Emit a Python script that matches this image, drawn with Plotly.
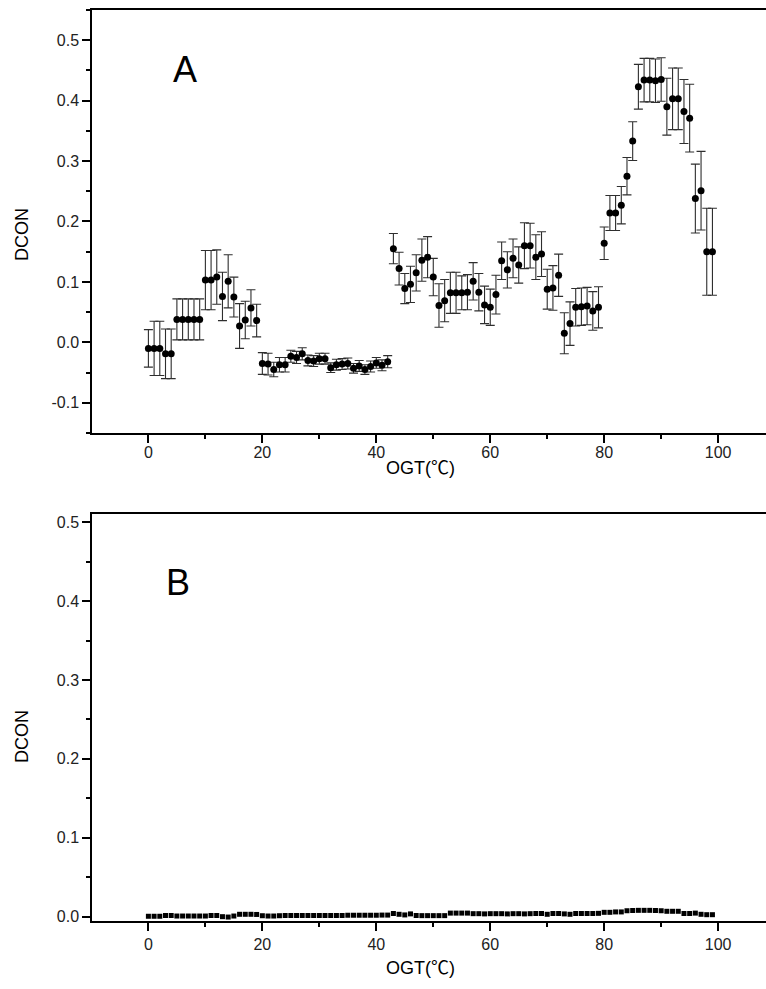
import plotly.graph_objects as go
from plotly.subplots import make_subplots

# ---------------- data ----------------
ogt = list(range(100))

dcon_a = [
    -0.010, -0.010, -0.010, -0.019, -0.019, 0.038, 0.038, 0.038, 0.038, 0.038,
    0.103, 0.103, 0.108, 0.076, 0.101, 0.075, 0.027, 0.037, 0.057, 0.036,
    -0.035, -0.036, -0.045, -0.037, -0.037, -0.023, -0.025, -0.019, -0.030, -0.031,
    -0.027, -0.027, -0.042, -0.037, -0.036, -0.035, -0.043, -0.039, -0.045, -0.040,
    -0.034, -0.038, -0.032, 0.155, 0.122, 0.089, 0.096, 0.115, 0.136, 0.141,
    0.108, 0.061, 0.069, 0.082, 0.082, 0.082, 0.083, 0.101, 0.083, 0.062,
    0.058, 0.079, 0.135, 0.120, 0.139, 0.128, 0.160, 0.160, 0.141, 0.146,
    0.088, 0.090, 0.111, 0.015, 0.031, 0.058, 0.059, 0.060, 0.052, 0.058,
    0.164, 0.214, 0.214, 0.227, 0.275, 0.333, 0.423, 0.434, 0.434, 0.433,
    0.435, 0.390, 0.403, 0.403, 0.382, 0.371, 0.238, 0.251, 0.150, 0.150,
]

err_a = [
    0.031, 0.045, 0.045, 0.041, 0.041, 0.034, 0.034, 0.034, 0.034, 0.034,
    0.049, 0.049, 0.045, 0.040, 0.044, 0.033, 0.037, 0.031, 0.030, 0.027,
    0.018, 0.018, 0.012, 0.012, 0.012, 0.010, 0.010, 0.010, 0.009, 0.009,
    0.009, 0.009, 0.008, 0.009, 0.009, 0.009, 0.008, 0.009, 0.008, 0.009,
    0.009, 0.009, 0.010, 0.025, 0.027, 0.025, 0.030, 0.030, 0.035, 0.034,
    0.031, 0.036, 0.035, 0.034, 0.034, 0.028, 0.029, 0.031, 0.031, 0.031,
    0.030, 0.032, 0.031, 0.030, 0.032, 0.030, 0.038, 0.037, 0.037, 0.037,
    0.033, 0.037, 0.035, 0.034, 0.036, 0.031, 0.031, 0.031, 0.032, 0.034,
    0.027, 0.029, 0.029, 0.031, 0.031, 0.032, 0.037, 0.036, 0.036, 0.036,
    0.036, 0.047, 0.051, 0.051, 0.053, 0.056, 0.057, 0.065, 0.072, 0.072,
]

dcon_b = [
    0.0005, 0.0005, 0.0005, 0.0015, 0.0015, 0.0008, 0.0008, 0.0008, 0.0008, 0.0008,
    0.0008, 0.0015, 0.0015, 0.0000, -0.0005, 0.0008, 0.0030, 0.0030, 0.0030, 0.0028,
    0.0012, 0.0008, 0.0008, 0.0012, 0.0015, 0.0015, 0.0015, 0.0015, 0.0015, 0.0015,
    0.0015, 0.0015, 0.0015, 0.0015, 0.0015, 0.0018, 0.0018, 0.0018, 0.0018, 0.0018,
    0.0018, 0.0020, 0.0020, 0.0040, 0.0030, 0.0022, 0.0035, 0.0015, 0.0013, 0.0013,
    0.0013, 0.0013, 0.0013, 0.0045, 0.0045, 0.0045, 0.0045, 0.0038, 0.0038, 0.0035,
    0.0038, 0.0038, 0.0038, 0.0035, 0.0038, 0.0038, 0.0035, 0.0038, 0.0040, 0.0040,
    0.0030, 0.0040, 0.0040, 0.0035, 0.0030, 0.0040, 0.0040, 0.0040, 0.0040, 0.0042,
    0.0055, 0.0055, 0.0060, 0.0060, 0.0075, 0.0078, 0.0080, 0.0080, 0.0080, 0.0078,
    0.0075, 0.0068, 0.0068, 0.0068, 0.0040, 0.0040, 0.0045, 0.0030, 0.0025, 0.0025,
]

x_ticks = [0, 20, 40, 60, 80, 100]
y_ticks_a = [-0.1, 0.0, 0.1, 0.2, 0.3, 0.4, 0.5]
y_ticks_b = [0.0, 0.1, 0.2, 0.3, 0.4, 0.5]

FONT = "Liberation Sans, Arial, sans-serif"
X_TITLE = "OGT(<span style='font-family:Noto Sans CJK SC'>℃</span>)"


def fmt(v):
    return "%.1f" % v  # ASCII hyphen for negatives, as in the original


# ---------------- figure ----------------
fig = make_subplots(rows=2, cols=1, vertical_spacing=0.0)

fig.add_trace(go.Scatter(
    x=ogt, y=dcon_a, mode="markers",
    marker=dict(symbol="circle", size=7, color="black"),
    error_y=dict(type="data", array=err_a, symmetric=True,
                 color="#2e2e2e", thickness=1.1, width=4.5),
    showlegend=False), row=1, col=1)

fig.add_trace(go.Scatter(
    x=ogt, y=dcon_b, mode="markers",
    marker=dict(symbol="square", size=5, color="black"),
    showlegend=False), row=2, col=1)

axis_common = dict(
    showgrid=False, zeroline=False, showline=True, linecolor="black",
    linewidth=1.5, ticks="outside", ticklen=8, tickwidth=1.5, tickcolor="black",
    tickfont=dict(family=FONT, size=16, color="#222"), automargin=False,
)

fig.update_xaxes(**axis_common, range=[-9.9, 108.4], tickvals=x_ticks,
                 ticktext=[str(t) for t in x_ticks],
                 minor=dict(dtick=10, tick0=0, ticks="outside", ticklen=4,
                            tickwidth=1.5, tickcolor="black", showgrid=False),
                 mirror=True)
fig.update_xaxes(ticklabelstandoff=-4, row=1, col=1)
fig.update_yaxes(**axis_common,
                 minor=dict(dtick=0.05, tick0=0, ticks="outside", ticklen=4,
                            tickwidth=1.5, tickcolor="black", showgrid=False))

fig.update_yaxes(range=[-0.15, 0.55], tickvals=y_ticks_a,
                 ticktext=[fmt(v) for v in y_ticks_a], row=1, col=1)
fig.update_yaxes(range=[-0.0055, 0.5104], tickvals=y_ticks_b,
                 ticktext=[fmt(v) for v in y_ticks_b], row=2, col=1)

fig.update_layout(
    width=766, height=989,
    margin=dict(l=92, r=0, t=10, b=68),
    paper_bgcolor="white", plot_bgcolor="white",
    font=dict(family=FONT, color="black"),
    xaxis=dict(domain=[0, 1]),
    yaxis=dict(domain=[0.5357, 1.0]),
    xaxis2=dict(domain=[0, 1]),
    yaxis2=dict(domain=[0.0, 0.4468]),
)

ann_font = dict(family=FONT, size=18, color="black")
annotations = [
    dict(text=X_TITLE, x=0.487, y=(921 - 466) / 911, xref="paper", yref="paper",
         showarrow=False, font=ann_font, xanchor="center", yanchor="middle"),
    dict(text=X_TITLE, x=0.487, y=(921 - 966) / 911, xref="paper", yref="paper",
         showarrow=False, font=ann_font, xanchor="center", yanchor="middle"),
    dict(text="DCON", x=-70 / 674, y=(921 - 235) / 911, xref="paper", yref="paper",
         showarrow=False, font=ann_font, textangle=-90, xanchor="center", yanchor="middle"),
    dict(text="DCON", x=-70 / 674, y=(921 - 737) / 911, xref="paper", yref="paper",
         showarrow=False, font=ann_font, textangle=-90, xanchor="center", yanchor="middle"),
    dict(text="A", x=6.4, y=0.452, xref="x", yref="y", showarrow=False,
         font=dict(family=FONT, size=36, color="black")),
    dict(text="B", x=5.2, y=0.423, xref="x2", yref="y2", showarrow=False,
         font=dict(family=FONT, size=36, color="black")),
]
fig.update_layout(annotations=annotations)

fig.write_html(
    "out.html",
    config={"displayModeBar": False},
    post_script="document.body.style.margin='0';document.body.style.overflow='hidden';",
)
